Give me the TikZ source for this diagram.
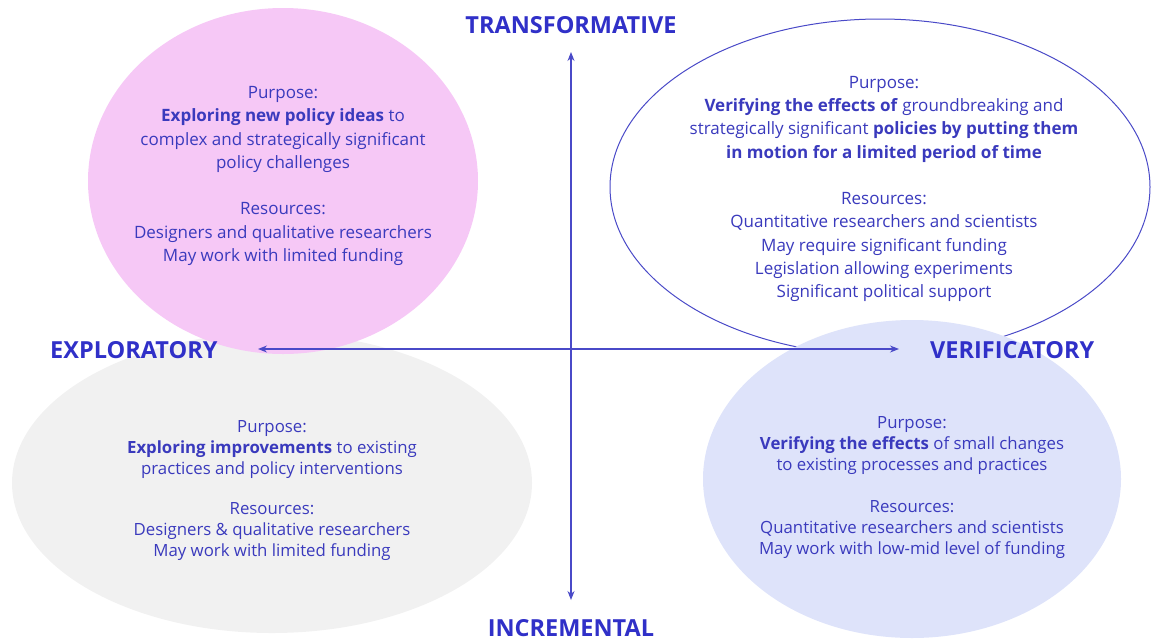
\documentclass[tikz,border=0pt]{standalone}
\usepackage{fontspec}
\setmainfont{Open Sans}
\usetikzlibrary{arrows.meta,shapes.geometric}
\definecolor{pinkfill}{HTML}{F6C8F6}
\definecolor{grayfill}{HTML}{F1F1F1}
\definecolor{bluefill}{HTML}{DEE3FA}
\definecolor{ink}{HTML}{3A3ABD}
\definecolor{title}{HTML}{3030C8}
\definecolor{axis}{HTML}{4A4AC8}
\tikzset{
  blob/.style={ellipse,inner sep=0pt,draw=none},
  bodytext/.style={align=center,text=ink,font=\fontsize{17}{23.3}\selectfont},
  bodytextsm/.style={align=center,text=ink,font=\fontsize{16.8}{21}\selectfont},
  axislabel/.style={text=title,font=\fontsize{23.5}{26}\selectfont\bfseries,inner sep=0pt},
  axisline/.style={draw=axis,line width=1.1pt,{Stealth[length=9pt,width=7pt]}-{Stealth[length=9pt,width=7pt]}}
}
\begin{document}
\begin{tikzpicture}[x=1pt,y=-1pt]
\useasboundingbox (0,0) rectangle (1151,641);
% ellipses
\node[blob,fill=grayfill,minimum width=520pt,minimum height=300pt] (grayE) at (272,483) {};
\node[blob,fill=pinkfill,minimum width=390pt,minimum height=346pt] (pinkE) at (283,181) {};
\node[blob,draw=axis,line width=1pt,fill=white,minimum width=540pt,minimum height=336pt] (outE) at (880,187) {};
\node[blob,fill=bluefill,minimum width=418pt,minimum height=318pt] (blueE) at (912,479) {};
% texts
\node[bodytext] (pinkT) at (283,176) {Purpose:\\ \textbf{Exploring new policy ideas} to\\ complex and strategically significant\\ policy challenges\\[23.3pt] Resources:\\ Designers and qualitative researchers\\ May work with limited funding};
\node[bodytext] (outT) at (884,189) {Purpose:\\ \textbf{Verifying the effects of} groundbreaking and\\ strategically significant \textbf{policies by putting them}\\ \textbf{in motion for a limited period of time}\\[23.3pt] Resources:\\ Quantitative researchers and scientists\\ May require significant funding\\ Legislation allowing experiments\\ Significant political support};
\node[bodytextsm] (grayT) at (272,491) {Purpose:\\ \textbf{Exploring improvements} to existing\\ practices and policy interventions\\[19pt] Resources:\\ Designers \& qualitative researchers\\ May work with limited funding};
\node[bodytextsm] (blueT) at (912,488) {Purpose:\\ \textbf{Verifying the effects} of small changes\\ to existing processes and practices\\[21pt] Resources:\\ Quantitative researchers and scientists\\ May work with low-mid level of funding};
% axis labels
\node[axislabel] (top) at (571,25) {TRANSFORMATIVE};
\node[axislabel] (bottom) at (571,628) {INCREMENTAL};
\node[axislabel,anchor=west] (left) at (50,350) {EXPLORATORY};
\node[axislabel,anchor=west] (right) at (930,350) {VERIFICATORY};
% axes
\coordinate (vt) at (571,52);
\coordinate (vb) at (571,600);
\coordinate (hl) at (258,349);
\coordinate (hr) at (899,349);
\draw[axisline] (vt) -- (vb);
\draw[axisline] (hl) -- (hr);
\end{tikzpicture}
\end{document}
